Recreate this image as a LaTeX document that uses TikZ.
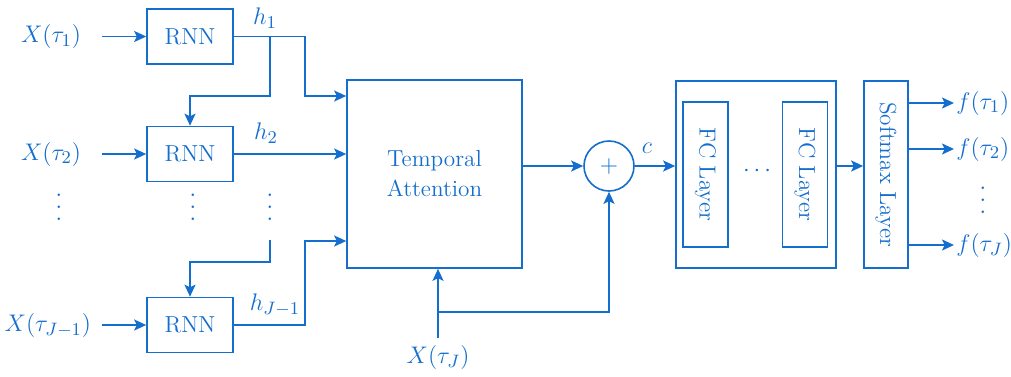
\documentclass[tikz,border=0pt]{standalone}
\usetikzlibrary{arrows.meta,positioning}
\definecolor{netblue}{RGB}{20,110,205}
\newcommand{\vdotcol}{\vbox{\baselineskip6pt\lineskiplimit0pt\hbox{.}\hbox{.}\hbox{.}}}
\tikzset{
  blk/.style={draw=netblue,line width=0.8pt,text=netblue,inner sep=0pt},
  arr/.style={netblue,line width=0.85pt,-{Stealth[length=6pt,width=5.5pt,inset=1.3pt]}},
  lbl/.style={text=netblue,font=\fontsize{13}{15}\selectfont}
}
\begin{document}
\begin{tikzpicture}[x=0.5pt,y=-0.5pt,font=\fontsize{11.6}{15}\selectfont]
\useasboundingbox (0,0) rectangle (1011,376);
% recurrent chain
\node[blk,minimum width=43pt,minimum height=27.5pt] (rnn1) at (190,36.5) {RNN};
\node[blk,minimum width=43pt,minimum height=27.5pt] (rnn2) at (190,154) {RNN};
\node[blk,minimum width=43pt,minimum height=27.5pt] (rnn3) at (190,325) {RNN};
\node[lbl,left=29pt of rnn1] (x1) {$X(\tau_1)$};
\node[lbl,left=29pt of rnn2] (x2) {$X(\tau_2)$};
\node[lbl,left=24pt of rnn3] (x3) {$X(\tau_{J-1})$};
\foreach \i in {1,2,3} \draw[arr] ([xshift=-22pt]rnn\i.west) -- (rnn\i.west);
\foreach \x in {59,193,270} \node[text=netblue,font=\fontsize{13}{15}\selectfont] (vd\x) at (\x,207) {\vdotcol};
% attention and sum
\node[blk,minimum width=87.5pt,minimum height=94pt,align=center] (att) at (434.5,174) {Temporal\\Attention};
\node[blk,circle,minimum size=25pt] (plus) at (609,166) {$+$};
\node[lbl] (h1) at (265,18) {$h_1$};
\node[lbl] (h2) at (266,133) {$h_2$};
\node[lbl] (h3) at (275,305) {$h_{J-1}$};
\node[lbl] (c) at (647,148) {$c$};
\node[lbl] (xJ) at (438,357) {$X(\tau_J)$};
\draw[arr] (rnn1.east) -| (305,96) -- (att.west |- 0,96);
\draw[arr] (270,0 |- rnn1.east) -- (270,96) -| (rnn2.north);
\draw[arr] (rnn2.east) -- (rnn2.east -| att.west);
\draw[arr] (270,240) -- (270,262) -| (rnn3.north);
\draw[arr] (rnn3.east) -| (305,241) -- (att.west |- 0,241);
\draw[arr] (xJ.north) -- (xJ.north |- att.south);
\coordinate (br) at (xJ.north |- 0,312);
\draw[arr] (br) -| (plus.south);
\draw[arr] (att.east |- plus) -- (plus.west);
% dense layers
\node[blk,minimum width=80pt,minimum height=93.5pt] (fcbox) at (756,174.5) {};
\node[blk,rotate=-90,minimum width=72.5pt,minimum height=22.5pt] (fc1) at (705.5,174.5) {FC Layer};
\node[blk,rotate=-90,minimum width=72.5pt,minimum height=22.5pt] (fc2) at (805,174.5) {FC Layer};
\node[lbl] (hd) at (757,171) {$\cdots$};
\node[blk,rotate=-90,minimum width=93.5pt,minimum height=22pt] (soft) at (886,174.5) {Softmax Layer};
\draw[arr] (plus.east) -- (plus -| fcbox.west);
\draw[arr] (fcbox.east |- plus) -- (plus -| soft.south);
% outputs
\foreach \y/\t in {103/1,149/2,245/J} {
  \node[lbl,anchor=west,inner sep=1pt] (f\t) at (954,\y) {$f(\tau_\t)$};
  \draw[arr] (soft.north |- f\t.west) -- (f\t.west);
}
\node[text=netblue,font=\fontsize{13}{15}\selectfont] (vdf) at (983,200) {\vdotcol};
\end{tikzpicture}
\end{document}
